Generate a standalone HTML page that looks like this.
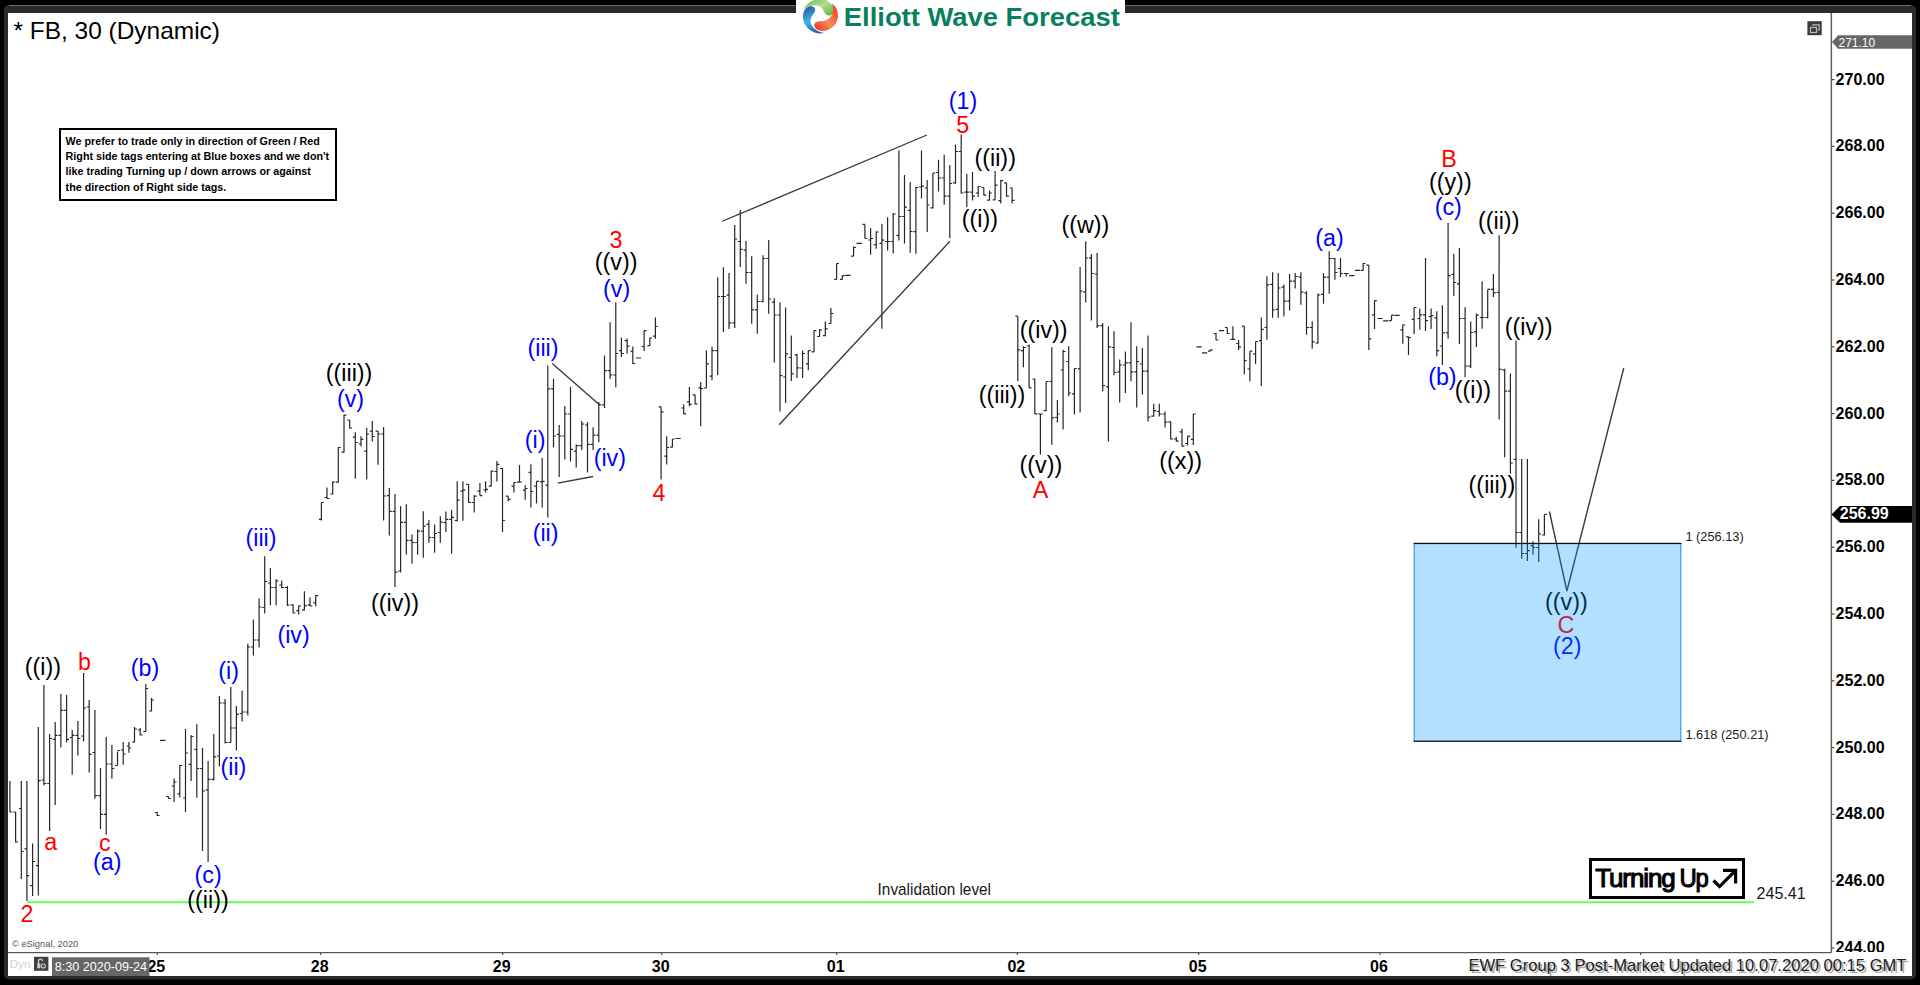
<!DOCTYPE html>
<html><head><meta charset="utf-8"><title>FB 30 Elliott Wave</title>
<style>
html,body{margin:0;padding:0;background:#000;}
body{width:1920px;height:985px;overflow:hidden;position:relative;font-family:"Liberation Sans",sans-serif;}
svg{position:absolute;left:0;top:0;}
text{font-family:"Liberation Sans",sans-serif;}
.w{font-size:23.3px;}
.ax{font-size:16px;font-weight:bold;fill:#000;}
.k{fill:#000}.b{fill:#0000ff}.r{fill:#ff0000}
</style></head><body>
<svg width="1920" height="985" viewBox="0 0 1920 985">
<defs>
<linearGradient id="gg" x1="0" y1="0" x2="1" y2="1"><stop offset="0" stop-color="#5cb947"/><stop offset="0.5" stop-color="#b5dc8c"/><stop offset="1" stop-color="#4fb53c"/></linearGradient>
<linearGradient id="gr" x1="1" y1="0" x2="0" y2="1"><stop offset="0" stop-color="#ee2f22"/><stop offset="0.55" stop-color="#f58a5c"/><stop offset="1" stop-color="#ee2a1c"/></linearGradient>
<linearGradient id="gb" x1="0.3" y1="0" x2="0.6" y2="1"><stop offset="0" stop-color="#2a5aa0"/><stop offset="0.5" stop-color="#3fb4ea"/><stop offset="1" stop-color="#1f5fa5"/></linearGradient>
<clipPath id="axclip"><rect x="1832" y="13" width="80" height="939"/></clipPath>
</defs>

<rect x="0" y="0" width="1920" height="985" fill="#000"/>
<rect x="4" y="5" width="1912" height="974.5" rx="5" ry="5" fill="#2a2a2a"/>
<rect x="9" y="5" width="1902" height="1" fill="#6a6a6a"/>
<rect x="8" y="13" width="1904" height="963" fill="#fff"/>
<rect x="796" y="0" width="329" height="40" fill="#fff"/>
<rect x="1830.6" y="13" width="1.5" height="939.5" fill="#606060"/>
<rect x="8" y="952" width="1823.5" height="1.2" fill="#555"/>
<rect x="1832" y="79.0" width="2.4" height="1.2" fill="#444"/>
<text class="ax" x="1835.6" y="84.5" clip-path="url(#axclip)">270.00</text>
<rect x="1832" y="145.8" width="2.4" height="1.2" fill="#444"/>
<text class="ax" x="1835.6" y="151.3" clip-path="url(#axclip)">268.00</text>
<rect x="1832" y="212.6" width="2.4" height="1.2" fill="#444"/>
<text class="ax" x="1835.6" y="218.1" clip-path="url(#axclip)">266.00</text>
<rect x="1832" y="279.4" width="2.4" height="1.2" fill="#444"/>
<text class="ax" x="1835.6" y="284.9" clip-path="url(#axclip)">264.00</text>
<rect x="1832" y="346.2" width="2.4" height="1.2" fill="#444"/>
<text class="ax" x="1835.6" y="351.7" clip-path="url(#axclip)">262.00</text>
<rect x="1832" y="413.0" width="2.4" height="1.2" fill="#444"/>
<text class="ax" x="1835.6" y="418.5" clip-path="url(#axclip)">260.00</text>
<rect x="1832" y="479.8" width="2.4" height="1.2" fill="#444"/>
<text class="ax" x="1835.6" y="485.3" clip-path="url(#axclip)">258.00</text>
<rect x="1832" y="546.6" width="2.4" height="1.2" fill="#444"/>
<text class="ax" x="1835.6" y="552.1" clip-path="url(#axclip)">256.00</text>
<rect x="1832" y="613.4" width="2.4" height="1.2" fill="#444"/>
<text class="ax" x="1835.6" y="618.9" clip-path="url(#axclip)">254.00</text>
<rect x="1832" y="680.2" width="2.4" height="1.2" fill="#444"/>
<text class="ax" x="1835.6" y="685.7" clip-path="url(#axclip)">252.00</text>
<rect x="1832" y="747.0" width="2.4" height="1.2" fill="#444"/>
<text class="ax" x="1835.6" y="752.5" clip-path="url(#axclip)">250.00</text>
<rect x="1832" y="813.8" width="2.4" height="1.2" fill="#444"/>
<text class="ax" x="1835.6" y="819.3" clip-path="url(#axclip)">248.00</text>
<rect x="1832" y="880.6" width="2.4" height="1.2" fill="#444"/>
<text class="ax" x="1835.6" y="886.1" clip-path="url(#axclip)">246.00</text>
<rect x="1832" y="947.4" width="2.4" height="1.2" fill="#444"/>
<text class="ax" x="1835.6" y="952.9" clip-path="url(#axclip)">244.00</text>
<rect x="156.7" y="952.5" width="1.2" height="2.6" fill="#555"/>
<text class="ax" x="156.3" y="972.3" text-anchor="middle">25</text>
<rect x="320.1" y="952.5" width="1.2" height="2.6" fill="#555"/>
<text class="ax" x="319.7" y="972.3" text-anchor="middle">28</text>
<rect x="502.1" y="952.5" width="1.2" height="2.6" fill="#555"/>
<text class="ax" x="501.7" y="972.3" text-anchor="middle">29</text>
<rect x="661.1" y="952.5" width="1.2" height="2.6" fill="#555"/>
<text class="ax" x="660.7" y="972.3" text-anchor="middle">30</text>
<rect x="836.1" y="952.5" width="1.2" height="2.6" fill="#555"/>
<text class="ax" x="835.7" y="972.3" text-anchor="middle">01</text>
<rect x="1016.7" y="952.5" width="1.2" height="2.6" fill="#555"/>
<text class="ax" x="1016.3" y="972.3" text-anchor="middle">02</text>
<rect x="1198.1" y="952.5" width="1.2" height="2.6" fill="#555"/>
<text class="ax" x="1197.7" y="972.3" text-anchor="middle">05</text>
<rect x="1379.4" y="952.5" width="1.2" height="2.6" fill="#555"/>
<text class="ax" x="1379.0" y="972.3" text-anchor="middle">06</text>
<rect x="1640" y="952" width="1.2" height="3" fill="#555"/>
<text x="1685.4" y="541.3" font-size="12.8" fill="#222">1 (256.13)</text>
<text x="1685.4" y="738.8" font-size="12.8" fill="#222">1.618 (250.21)</text>
<rect x="27" y="901.3" width="1727" height="1.9" fill="#5aff5a"/>
<path d="M9.9 781.0V812.0M9.9 812.0H12.3M15.6 812.0V842.5M13.2 812.0H15.6M15.6 842.0H18.0M21.3 781.0V879.0M18.9 808.5H21.3M21.3 851.5H23.7M26.9 781.0V901.0M24.5 848.8H26.9M26.9 875.6H29.3M32.6 843.5V896.0M30.2 885.6H32.6M32.6 861.5H35.0M38.3 726.9V895.6M35.9 865.6H38.3M38.3 780.6H40.7M43.9 685.0V785.6M41.5 780.0H43.9M43.9 783.5H46.3M49.6 734.0V831.0M47.2 783.5H49.6M49.6 738.5H52.0M55.2 721.9V805.0M52.8 739.4H55.2M55.2 735.4H57.6M60.9 693.8V747.5M58.5 735.4H60.9M60.9 710.4H63.3M66.6 695.0V742.5M64.2 710.4H66.6M66.6 739.4H69.0M72.2 730.0V774.8M69.8 737.5H72.2M72.2 735.4H74.6M77.9 721.0V755.6M75.5 735.4H77.9M77.9 738.5H80.3M83.6 672.9V741.5M81.2 736.0H83.6M83.6 708.0H86.0M89.2 700.0V772.5M86.8 707.0H89.2M89.2 754.4H91.6M94.9 710.0V798.8M92.5 752.5H94.9M94.9 795.6H97.3M100.5 768.0V829.0M98.1 795.6H100.5M100.5 814.4H102.9M106.2 737.0V834.8M103.8 814.4H106.2M106.2 764.0H108.6M111.9 745.0V778.8M109.5 764.0H111.9M111.9 768.5H114.3M117.5 751.5V765.6M115.1 765.5H117.5M117.5 750.5H119.9M123.2 742.0V764.8M120.8 750.0H123.2M123.2 754.0H125.6M128.9 742.0V752.8M126.5 746.0H128.9M128.9 748.0H131.3M134.5 727.0V742.5M132.1 742.0H134.5M134.5 729.0H136.9M140.2 728.0V735.6M137.8 730.0H140.2M140.2 735.0H142.6M145.8 684.0V731.5M143.4 731.5H145.8M145.8 688.5H148.2M151.5 698.0V711.5M149.1 711.0H151.5M151.5 700.0H153.9M157.2 812.0V816.0M154.8 812.5H157.2M157.2 815.5H159.6M160.2 740.4H165.4M168.5 796.5V798.5M166.1 796.5H168.5M168.5 798.5H170.9M174.1 778.5V802.0M171.7 786.0H174.1M174.1 782.0H176.5M179.8 765.2V797.5M177.4 793.8H179.8M179.8 765.5H182.2M185.5 729.0V812.0M183.1 798.0H185.5M185.5 753.0H187.9M191.1 735.0V781.0M188.7 764.4H191.1M191.1 736.5H193.5M196.8 724.0V797.8M194.4 749.4H196.8M196.8 768.5H199.2M202.5 748.0V851.0M200.1 768.5H202.5M202.5 791.0H204.9M208.1 761.0V862.0M205.7 789.8H208.1M208.1 779.4H210.5M213.8 734.0V780.6M211.4 779.4H213.8M213.8 756.9H216.2M219.4 696.0V766.5M217.0 756.0H219.4M219.4 703.0H221.8M225.1 699.0V743.5M222.7 703.0H225.1M225.1 742.5H227.5M230.8 687.0V742.5M228.4 742.5H230.8M230.8 728.0H233.2M236.4 706.0V750.6M234.0 728.0H236.4M236.4 714.4H238.8M242.1 690.6V721.5M239.7 713.5H242.1M242.1 712.0H244.5M247.8 643.8V715.6M245.4 712.0H247.8M247.8 647.0H250.2M253.4 619.6V655.6M251.0 647.0H253.4M253.4 640.0H255.8M259.1 598.5V647.5M256.7 640.0H259.1M259.1 607.0H261.5M264.7 556.2V613.5M262.3 607.5H264.7M264.7 581.5H267.1M270.4 568.0V605.2M268.0 583.0H270.4M270.4 587.5H272.8M276.1 579.0V605.2M273.7 587.5H276.1M276.1 581.0H278.5M281.7 580.6V588.0M279.3 585.0H281.7M281.7 587.5H284.1M287.4 586.0V606.0M285.0 587.5H287.4M287.4 605.0H289.8M293.1 604.4V613.5M290.7 604.8H293.1M293.1 613.0H295.4M298.7 605.6V614.4M296.3 610.6H298.7M298.7 606.0H301.1M304.4 591.2V610.6M302.0 609.8H304.4M304.4 605.6H306.8M310.0 597.5V606.2M307.6 604.8H310.0M310.0 606.0H312.4M315.7 595.2V606.2M313.3 602.8H315.7M315.7 595.6H318.1M321.4 502.5V520.6M319.0 519.4H321.4M321.4 502.5H323.8M327.0 487.5V498.8M324.6 497.5H327.0M327.0 498.5H329.4M332.7 481.2V494.4M330.3 494.0H332.7M332.7 482.0H335.1M338.3 447.2V482.5M335.9 482.2H338.3M338.3 447.5H340.7M344.0 415.0V452.5M341.6 452.2H344.0M344.0 415.2H346.4M349.7 420.0V428.5M347.3 420.0H349.7M349.7 428.0H352.1M355.3 432.2V478.8M352.9 437.2H355.3M355.3 442.5H357.7M361.0 436.2V446.5M358.6 444.0H361.0M361.0 439.4H363.4M366.7 427.8V479.4M364.3 451.2H366.7M366.7 434.0H369.1M372.3 421.0V441.5M369.9 431.2H372.3M372.3 436.5H374.7M378.0 431.0V464.8M375.6 431.2H378.0M378.0 434.0H380.4M383.6 427.0V520.6M381.2 434.0H383.6M383.6 496.0H386.0M389.3 488.0V535.6M386.9 495.6H389.3M389.3 511.4H391.7M395.0 494.0V587.0M392.6 511.4H395.0M395.0 572.2H397.4M400.6 506.2V572.5M398.2 571.0H400.6M400.6 522.3H403.0M406.3 504.2V554.8M403.9 522.3H406.3M406.3 540.4H408.7M412.0 534.4V563.8M409.6 540.4H412.0M412.0 542.5H414.4M417.6 529.4V554.8M415.2 542.5H417.6M417.6 531.2H420.0M423.3 511.2V557.8M420.9 531.2H423.3M423.3 526.2H425.7M428.9 520.2V542.8M426.5 524.4H428.9M428.9 537.5H431.3M434.6 524.4V552.8M432.2 537.5H434.6M434.6 533.5H437.0M440.3 516.2V542.8M437.9 532.5H440.3M440.3 522.2H442.7M445.9 511.5V531.9M443.5 522.5H445.9M445.9 519.4H448.3M451.6 510.0V553.8M449.2 519.4H451.6M451.6 517.4H454.0M457.2 481.2V521.5M454.8 520.5H457.2M457.2 500.1H459.6M462.9 481.2V520.8M460.5 491.2H462.9M462.9 490.2H465.3M468.6 484.4V502.8M466.2 484.4H468.6M468.6 502.5H471.0M474.2 495.2V512.5M471.8 502.5H474.2M474.2 496.2H476.6M479.9 483.0V495.6M477.5 491.2H479.9M479.9 495.6H482.3M485.6 481.2V492.5M483.2 490.0H485.6M485.6 489.4H488.0M491.2 470.6V486.5M488.8 486.2H491.2M491.2 471.2H493.6M496.9 461.0V481.5M494.5 471.5H496.9M496.9 464.4H499.3M502.5 468.0V531.9M500.1 468.5H502.5M502.5 520.5H504.9M508.2 496.2V501.5M505.8 496.2H508.2M508.2 499.4H510.6M513.9 482.2V492.5M511.5 486.2H513.9M513.9 482.5H516.3M519.5 465.0V482.2M517.1 482.2H519.5M519.5 482.0H521.9M525.2 485.2V499.7M522.8 490.2H525.2M525.2 488.5H527.6M530.9 464.2V507.5M528.5 472.4H530.9M530.9 491.5H533.3M536.5 481.2V503.5M534.1 486.2H536.5M536.5 481.4H538.9M542.2 458.0V507.6M539.8 481.8H542.2M542.2 481.4H544.6M547.8 365.6V517.5M545.4 485.2H547.8M547.8 388.8H550.2M553.5 378.8V447.2M551.1 388.8H553.5M553.5 436.0H555.9M559.2 425.0V476.9M556.8 434.4H559.2M559.2 436.0H561.6M564.8 406.0V459.4M562.4 436.0H564.8M564.8 414.0H567.2M570.5 386.9V461.5M568.1 414.0H570.5M570.5 449.4H572.9M576.2 444.4V467.5M573.8 451.2H576.2M576.2 445.6H578.6M581.8 421.0V450.0M579.4 445.6H581.8M581.8 424.0H584.2M587.5 421.9V472.5M585.1 425.0H587.5M587.5 444.4H589.9M593.1 427.2V450.0M590.7 444.4H593.1M593.1 435.2H595.5M598.8 401.9V442.2M596.4 435.2H598.8M598.8 404.8H601.2M604.5 355.6V408.0M602.1 404.8H604.5M604.5 370.6H606.9M610.1 322.2V379.0M607.7 370.6H610.1M610.1 375.0H612.5M615.8 302.2V387.2M613.4 375.0H615.8M615.8 353.5H618.2M621.4 337.5V356.9M619.0 350.6H621.4M621.4 353.5H623.8M627.1 338.5V353.8M624.7 340.6H627.1M627.1 346.2H629.5M632.8 346.5V364.0M630.4 351.2H632.8M632.8 363.5H635.2M635.8 358.0H641.0M644.1 330.4V351.0M641.7 346.5H644.1M644.1 330.6H646.5M649.8 337.5V346.0M647.4 345.6H649.8M649.8 338.0H652.2M655.4 317.5V338.8M653.0 336.2H655.4M655.4 326.5H657.8M661.1 406.9V479.4M658.7 406.9H661.1M661.1 411.9H663.5M666.7 436.2V464.4M664.3 456.2H666.7M666.7 447.5H669.1M672.4 439.0V447.2M670.0 447.2H672.4M672.4 439.0H674.8M675.5 438.5H680.7M683.7 404.4V414.4M681.3 408.0H683.7M683.7 413.8H686.1M689.4 386.9V406.2M687.0 401.9H689.4M689.4 404.4H691.8M695.1 394.8V404.4M692.7 394.8H695.1M695.1 403.8H697.5M700.7 381.9V426.2M698.3 387.8H700.7M700.7 388.5H703.1M706.4 350.6V388.0M704.0 388.0H706.4M706.4 363.8H708.8M712.0 346.5V380.2M709.6 376.2H712.0M712.0 350.6H714.4M717.7 277.2V375.0M715.3 350.6H717.7M717.7 296.5H720.1M723.4 267.2V331.9M721.0 296.5H723.4M723.4 296.5H725.8M729.0 273.0V329.0M726.6 295.2H729.0M729.0 322.8H731.4M734.7 225.0V328.0M732.3 322.8H734.7M734.7 239.0H737.1M740.3 210.0V266.9M737.9 241.5H740.3M740.3 249.4H742.7M746.0 241.0V283.8M743.6 250.2H746.0M746.0 272.5H748.4M751.7 256.2V323.8M749.3 272.5H751.7M751.7 309.8H754.1M757.3 294.4V333.8M754.9 309.8H757.3M757.3 301.5H759.7M763.0 255.2V302.5M760.6 301.5H763.0M763.0 258.5H765.4M768.7 240.0V313.8M766.3 258.5H768.7M768.7 299.0H771.1M774.3 298.0V362.5M771.9 302.2H774.3M774.3 315.0H776.7M780.0 302.2V411.5M777.6 315.0H780.0M780.0 375.6H782.4M785.6 307.5V403.0M783.2 377.0H785.6M785.6 353.8H788.0M791.3 335.6V381.0M788.9 357.5H791.3M791.3 373.8H793.7M797.0 353.8V378.0M794.6 354.8H797.0M797.0 367.8H799.4M802.6 350.6V378.0M800.2 368.0H802.6M802.6 353.5H805.0M808.3 350.6V370.2M805.9 363.8H808.3M808.3 350.6H810.7M814.0 330.2V351.9M811.6 351.9H814.0M814.0 330.6H816.4M819.6 329.0V336.5M817.2 336.5H819.6M819.6 330.0H822.0M825.3 321.5V336.2M822.9 335.6H825.3M825.3 328.8H827.7M830.9 308.0V323.5M828.5 323.5H830.9M830.9 313.5H833.3M836.6 263.5V279.4M834.2 279.4H836.6M836.6 263.5H839.0M842.3 275.6V279.4M839.9 279.4H842.3M842.3 275.6H844.7M845.3 275.4H850.5M853.6 246.5V256.2M851.2 256.2H853.6M853.6 247.5H856.0M856.6 243.4H861.9M864.9 224.4V238.5M862.5 224.4H864.9M864.9 238.5H867.3M870.6 228.0V254.8M868.2 240.0H870.6M870.6 238.5H873.0M876.2 231.2V248.8M873.8 244.6H876.2M876.2 232.0H878.6M881.9 224.0V328.8M879.5 243.4H881.9M881.9 240.2H884.3M887.6 217.2V250.6M885.2 241.5H887.6M887.6 241.5H890.0M893.2 213.0V253.5M890.8 241.5H893.2M893.2 214.0H895.6M898.9 150.6V240.6M896.5 235.4H898.9M898.9 216.5H901.3M904.5 175.0V243.6M902.1 216.5H904.5M904.5 207.2H906.9M910.2 182.0V252.8M907.8 210.4H910.2M910.2 231.5H912.6M915.9 187.0V253.8M913.5 231.7H915.9M915.9 187.5H918.3M921.5 150.6V198.6M919.1 187.0H921.5M921.5 186.2H923.9M927.2 180.0V231.9M924.8 188.0H927.2M927.2 205.0H929.6M932.9 173.0V208.6M930.5 207.9H932.9M932.9 173.0H935.3M938.5 159.8V191.5M936.1 172.5H938.5M938.5 178.0H940.9M944.2 154.8V204.8M941.8 178.0H944.2M944.2 196.2H946.6M949.8 165.0V238.0M947.4 196.2H949.8M949.8 183.5H952.2M955.5 144.4V183.8M953.1 182.8H955.5M955.5 151.5H957.9M961.2 134.4V193.5M958.8 151.5H961.2M961.2 193.0H963.6M966.8 173.8V207.0M964.4 192.2H966.8M966.8 192.2H969.2M972.5 172.0V200.6M970.1 192.2H972.5M972.5 196.2H974.9M978.2 186.2V197.0M975.8 193.0H978.2M978.2 186.5H980.6M983.8 187.5V195.6M981.4 187.5H983.8M983.8 195.2H986.2M989.5 190.6V200.6M987.1 200.2H989.5M989.5 193.0H991.9M995.1 171.0V199.8M992.7 199.8H995.1M995.1 185.2H997.5M1000.8 179.8V203.5M998.4 200.6H1000.8M1000.8 180.6H1003.2M1006.5 182.8V196.5M1004.1 182.8H1006.5M1006.5 196.2H1008.9M1012.1 187.5V203.5M1009.7 188.0H1012.1M1012.1 200.4H1014.5M1017.8 316.2V381.0M1015.4 316.2H1017.8M1017.8 349.8H1020.2M1023.4 346.2V367.2M1021.0 350.6H1023.4M1023.4 347.5H1025.8M1029.1 344.4V388.0M1026.7 346.0H1029.1M1029.1 387.8H1031.5M1034.8 378.8V414.0M1032.4 379.0H1034.8M1034.8 413.8H1037.2M1040.4 414.0V454.4M1038.0 414.0H1040.4M1040.4 414.0H1042.8M1046.1 381.9V411.0M1043.7 410.6H1046.1M1046.1 381.5H1048.5M1051.8 347.2V444.8M1049.4 381.5H1051.8M1051.8 417.8H1054.2M1057.4 400.0V422.5M1055.0 417.5H1057.4M1057.4 414.0H1059.8M1063.1 349.8V429.4M1060.7 370.0H1063.1M1063.1 351.5H1065.5M1068.7 346.2V396.2M1066.3 361.5H1068.7M1068.7 393.0H1071.1M1074.4 368.5V414.4M1072.0 393.8H1074.4M1074.4 368.5H1076.8M1080.1 266.9V412.5M1077.7 368.8H1080.1M1080.1 291.2H1082.5M1085.7 241.2V302.5M1083.3 291.9H1085.7M1085.7 258.0H1088.1M1091.4 254.0V320.6M1089.0 257.8H1091.4M1091.4 273.5H1093.8M1097.1 253.0V328.0M1094.7 274.0H1097.1M1097.1 325.6H1099.5M1102.7 323.0V391.2M1100.3 325.6H1102.7M1102.7 385.6H1105.1M1108.4 326.2V441.5M1106.0 386.9H1108.4M1108.4 346.9H1110.8M1114.0 331.2V375.2M1111.6 347.5H1114.0M1114.0 372.5H1116.4M1119.7 359.4V402.5M1117.3 371.9H1119.7M1119.7 365.0H1122.1M1125.4 351.5V393.0M1123.0 365.0H1125.4M1125.4 362.8H1127.8M1131.0 322.2V381.2M1128.6 362.8H1131.0M1131.0 371.9H1133.4M1136.7 346.2V407.5M1134.3 371.9H1136.7M1136.7 361.5H1139.1M1142.4 348.0V394.4M1140.0 364.0H1142.4M1142.4 371.2H1144.8M1148.0 335.6V421.5M1145.6 371.2H1148.0M1148.0 417.2H1150.4M1153.7 403.8V416.5M1151.3 416.2H1153.7M1153.7 410.6H1156.1M1159.3 403.8V416.5M1156.9 411.5H1159.3M1159.3 414.0H1161.7M1165.0 411.5V427.5M1162.6 414.0H1165.0M1165.0 422.2H1167.4M1170.7 421.5V439.4M1168.3 421.9H1170.7M1170.7 439.0H1173.1M1176.3 436.9V441.5M1173.9 439.0H1176.3M1176.3 441.2H1178.7M1182.0 428.8V446.5M1179.6 431.9H1182.0M1182.0 446.2H1184.4M1187.6 436.0V445.6M1185.2 443.5H1187.6M1187.6 436.2H1190.0M1193.3 413.8V445.0M1190.9 439.4H1193.3M1193.3 414.0H1195.7M1196.4 346.9H1201.6M1202.0 352.9H1207.2M1210.3 349.8V351.2M1207.9 351.2H1210.3M1210.3 349.8H1212.7M1216.0 333.0V340.2M1213.6 333.5H1216.0M1216.0 340.0H1218.4M1219.0 330.6H1224.2M1227.3 327.5V333.8M1224.9 327.5H1227.3M1227.3 333.5H1229.7M1232.9 326.2V339.8M1230.5 339.4H1232.9M1232.9 339.4H1235.3M1238.6 340.0V350.0M1236.2 343.5H1238.6M1238.6 346.9H1241.0M1244.3 326.2V374.4M1241.9 326.2H1244.3M1244.3 360.6H1246.7M1249.9 351.2V381.2M1247.5 369.0H1249.9M1249.9 351.2H1252.3M1255.6 341.5V364.0M1253.2 353.8H1255.6M1255.6 341.5H1258.0M1261.3 317.5V386.0M1258.9 340.6H1261.3M1261.3 329.4H1263.7M1266.9 276.2V339.8M1264.5 327.5H1266.9M1266.9 284.8H1269.3M1272.6 272.2V317.8M1270.2 284.4H1272.6M1272.6 310.0H1275.0M1278.2 273.0V317.8M1275.8 309.4H1278.2M1278.2 288.0H1280.6M1283.9 284.4V316.5M1281.5 287.2H1283.9M1283.9 301.2H1286.3M1289.6 274.0V310.6M1287.2 301.2H1289.6M1289.6 281.2H1292.0M1295.2 273.0V288.5M1292.8 281.2H1295.2M1295.2 276.5H1297.6M1300.9 272.2V304.8M1298.5 277.2H1300.9M1300.9 292.2H1303.3M1306.5 291.2V334.8M1304.1 293.0H1306.5M1306.5 327.5H1308.9M1312.2 321.2V348.8M1309.8 327.5H1312.2M1312.2 341.9H1314.6M1317.9 293.5V343.8M1315.5 343.0H1317.9M1317.9 295.0H1320.3M1323.5 273.0V303.8M1321.1 294.4H1323.5M1323.5 277.2H1325.9M1329.2 251.2V293.8M1326.8 277.2H1329.2M1329.2 258.5H1331.6M1334.9 258.0V279.8M1332.5 258.5H1334.9M1334.9 272.5H1337.3M1340.5 258.0V276.9M1338.1 268.5H1340.5M1340.5 273.5H1342.9M1346.2 273.0V276.5M1343.8 273.5H1346.2M1346.2 273.5H1348.6M1349.2 275.6H1354.4M1354.9 270.4H1360.1M1363.2 263.0V270.6M1360.8 270.4H1363.2M1363.2 263.5H1365.6M1368.8 265.2V350.0M1366.4 265.2H1368.8M1368.8 338.8H1371.2M1374.5 300.6V329.0M1372.1 314.8H1374.5M1374.5 300.6H1376.9M1377.6 318.5H1382.8M1383.2 320.9H1388.4M1391.5 315.2V320.6M1389.1 320.6H1391.5M1391.5 315.2H1393.9M1394.5 315.4H1399.7M1402.8 324.6V343.8M1400.4 329.8H1402.8M1402.8 325.0H1405.2M1408.5 336.5V355.0M1406.1 336.9H1408.5M1408.5 337.5H1410.9M1414.1 307.5V334.0M1411.7 319.4H1414.1M1414.1 307.5H1416.5M1419.8 308.5V329.8M1417.4 318.5H1419.8M1419.8 314.8H1422.2M1425.5 258.0V331.0M1423.0 314.8H1425.5M1425.5 320.6H1427.9M1431.1 308.5V329.0M1428.7 316.5H1431.1M1431.1 315.6H1433.5M1436.8 311.2V356.2M1434.4 317.8H1436.8M1436.8 350.6H1439.2M1442.4 305.2V365.0M1440.0 346.0H1442.4M1442.4 332.8H1444.8M1448.1 223.0V338.8M1445.7 332.8H1448.1M1448.1 275.6H1450.5M1453.8 254.0V296.0M1451.4 274.4H1453.8M1453.8 282.5H1456.2M1459.4 248.0V344.0M1457.0 283.8H1459.4M1459.4 318.5H1461.8M1465.1 307.2V377.2M1462.7 318.5H1465.1M1465.1 366.0H1467.5M1470.7 321.5V368.0M1468.3 366.2H1470.7M1470.7 332.5H1473.1M1476.4 313.5V346.9M1474.0 331.9H1476.4M1476.4 315.2H1478.8M1482.1 281.2V328.8M1479.7 317.5H1482.1M1482.1 317.5H1484.5M1487.7 289.4V318.5M1485.3 317.5H1487.7M1487.7 289.4H1490.1M1493.4 274.0V296.9M1491.0 289.4H1493.4M1493.4 292.8H1495.8M1499.1 235.2V419.4M1496.7 292.5H1499.1M1499.1 369.4H1501.5M1504.7 368.8V457.2M1502.3 369.8H1504.7M1504.7 391.2H1507.1M1510.4 373.5V473.5M1508.0 391.2H1510.4M1510.4 463.0H1512.8M1516.0 340.6V547.8M1513.6 459.4H1516.0M1516.0 532.5H1518.4M1521.7 459.0V558.8M1519.3 532.5H1521.7M1521.7 553.5H1524.1M1527.4 459.0V561.0M1525.0 553.5H1527.4M1527.4 550.6H1529.8M1533.0 541.2V554.8M1530.6 545.6H1533.0M1533.0 547.5H1535.4M1538.7 519.2V561.9M1536.3 547.5H1538.7M1538.7 534.0H1541.1M1544.4 514.4V535.6M1542.0 535.0H1544.4M1544.4 514.4H1546.8" stroke="#262626" stroke-width="1.2" fill="none"/>
<line x1="552.25" y1="363.5" x2="599.75" y2="405" stroke="#383838" stroke-width="1.35"/>
<line x1="557.75" y1="483.1" x2="593.1" y2="476.5" stroke="#383838" stroke-width="1.35"/>
<line x1="722.25" y1="221.25" x2="926.9" y2="135" stroke="#383838" stroke-width="1.35"/>
<line x1="779.1" y1="424.75" x2="950" y2="241.25" stroke="#383838" stroke-width="1.35"/>
<polyline points="1549.4,511.5 1566.9,591 1623.75,368" fill="none" stroke="#3a3a3a" stroke-width="1.4"/>
<text class="w r" x="26.9" y="922.0" text-anchor="middle">2</text>
<text class="w k" x="42.8" y="674.6" text-anchor="middle">((i))</text>
<text class="w r" x="50.7" y="849.8" text-anchor="middle">a</text>
<text class="w r" x="84.4" y="669.7" text-anchor="middle">b</text>
<text class="w r" x="104.8" y="851.3" text-anchor="middle">c</text>
<text class="w b" x="107.3" y="870.1" text-anchor="middle">(a)</text>
<text class="w b" x="145.1" y="676.1" text-anchor="middle">(b)</text>
<text class="w b" x="208.2" y="883.3" text-anchor="middle">(c)</text>
<text class="w k" x="208" y="908.2" text-anchor="middle">((ii))</text>
<text class="w b" x="228.7" y="679.4" text-anchor="middle">(i)</text>
<text class="w b" x="233.4" y="774.9" text-anchor="middle">(ii)</text>
<text class="w b" x="261" y="545.6" text-anchor="middle">(iii)</text>
<text class="w b" x="293.6" y="643.3" text-anchor="middle">(iv)</text>
<text class="w k" x="349.1" y="381.0" text-anchor="middle">((iii))</text>
<text class="w b" x="350.5" y="407.1" text-anchor="middle">(v)</text>
<text class="w k" x="395" y="610.5" text-anchor="middle">((iv))</text>
<text class="w b" x="535.1" y="448.1" text-anchor="middle">(i)</text>
<text class="w b" x="545.6" y="541" text-anchor="middle">(ii)</text>
<text class="w b" x="543" y="356.1" text-anchor="middle">(iii)</text>
<text class="w b" x="609.8" y="466.3" text-anchor="middle">(iv)</text>
<text class="w r" x="616.1" y="247.7" text-anchor="middle">3</text>
<text class="w k" x="616.1" y="269.8" text-anchor="middle">((v))</text>
<text class="w b" x="616.6" y="296.9" text-anchor="middle">(v)</text>
<text class="w r" x="659" y="500.8" text-anchor="middle">4</text>
<text class="w b" x="963.1" y="109.2" text-anchor="middle">(1)</text>
<text class="w r" x="962.8" y="132.6" text-anchor="middle">5</text>
<text class="w k" x="995.2" y="165.5" text-anchor="middle">((ii))</text>
<text class="w k" x="979.9" y="227.1" text-anchor="middle">((i))</text>
<text class="w k" x="1085.4" y="232.8" text-anchor="middle">((w))</text>
<text class="w k" x="1043.7" y="338.1" text-anchor="middle">((iv))</text>
<text class="w k" x="1002.0" y="402.5" text-anchor="middle">((iii))</text>
<text class="w k" x="1040.9" y="473.2" text-anchor="middle">((v))</text>
<text class="w r" x="1040.4" y="498.4" text-anchor="middle">A</text>
<text class="w k" x="1180.6" y="469.1" text-anchor="middle">((x))</text>
<text class="w b" x="1329.5" y="246.1" text-anchor="middle">(a)</text>
<text class="w r" x="1449.1" y="167.4" text-anchor="middle">B</text>
<text class="w k" x="1450.3" y="189.7" text-anchor="middle">((y))</text>
<text class="w b" x="1448.3" y="214.9" text-anchor="middle">(c)</text>
<text class="w k" x="1498.7" y="228.9" text-anchor="middle">((ii))</text>
<text class="w b" x="1442.4" y="384.7" text-anchor="middle">(b)</text>
<text class="w k" x="1472.8" y="397.5" text-anchor="middle">((i))</text>
<text class="w k" x="1528.7" y="334.5" text-anchor="middle">((iv))</text>
<text class="w k" x="1491.9" y="493" text-anchor="middle">((iii))</text>
<text class="w k" x="1566.4" y="609.8" text-anchor="middle">((v))</text>
<text class="w r" x="1565.9" y="633.3" text-anchor="middle">C</text>
<text class="w b" x="1567.3" y="653.7" text-anchor="middle">(2)</text>
<rect x="1414" y="543.4" width="267" height="197.8" fill="rgb(2,152,255)" fill-opacity="0.3"/>
<rect x="1413.6" y="543.4" width="1.2" height="197.8" fill="#3a9cf5"/>
<rect x="1680.2" y="543.4" width="1.2" height="197.8" fill="#3a9cf5"/>
<rect x="1413.6" y="542.8" width="267.8" height="1.3" fill="#111"/>
<rect x="1413.6" y="740.6" width="267.8" height="1.3" fill="#111"/>
<text x="13.4" y="39.2" font-size="24" fill="#000" textLength="206.6" lengthAdjust="spacingAndGlyphs">* FB, 30 (Dynamic)</text>
<rect x="60" y="129" width="276" height="71" fill="#fff" stroke="#000" stroke-width="2"/>
<text x="65.6" y="145.0" font-size="10.75" font-weight="bold" fill="#000" id="n0">We prefer to trade only in direction of Green / Red</text>
<text x="65.6" y="160.2" font-size="10.75" font-weight="bold" fill="#000" id="n1">Right side tags entering at Blue boxes and we don't</text>
<text x="65.6" y="175.4" font-size="10.75" font-weight="bold" fill="#000" id="n2">like trading Turning up / down arrows or against</text>
<text x="65.6" y="190.6" font-size="10.75" font-weight="bold" fill="#000" id="n3">the direction of Right side tags.</text>
<text x="877.6" y="894.7" font-size="16.6" fill="#161616" textLength="113.4" lengthAdjust="spacingAndGlyphs">Invalidation level</text>
<text x="1756.6" y="898.5" font-size="16" fill="#141428">245.41</text>
<rect x="1590.5" y="859.5" width="153" height="38" fill="#fff" stroke="#000" stroke-width="3"/>
<text x="1595.2" y="887.3" font-size="26" fill="#000" stroke="#000" stroke-width="1.1" letter-spacing="-1.1" id="tu1">Turning</text>
<text x="1679.4" y="887.3" font-size="26" fill="#000" stroke="#000" stroke-width="1.1" letter-spacing="-1.1" id="tu2" textLength="28.5" lengthAdjust="spacingAndGlyphs">Up</text>
<path d="M1713.5 880.5L1719.6 886.6L1735.3 870.6M1723 870.4H1735.6V883.6" fill="none" stroke="#000" stroke-width="3.2" stroke-linejoin="miter"/>
<path d="M1832 42L1838 35.2H1912V48.8H1838Z" fill="#666"/>
<text x="1838.5" y="47.2" font-size="12" fill="#fff">271.10</text>
<path d="M1831.5 514.4L1840 506H1912V522.8H1840Z" fill="#000"/>
<text x="1839.8" y="519.3" font-size="16" font-weight="bold" fill="#fff">256.99</text>
<rect x="1807.4" y="21.2" width="14.3" height="14" fill="#3c3c3c"/>
<rect x="1810.5" y="27.5" width="6" height="5" fill="none" stroke="#bbb" stroke-width="1.2"/>
<path d="M1813 26V24.8H1819.2V30H1817.5" fill="none" stroke="#bbb" stroke-width="1.2"/>
<text x="12" y="947.2" font-size="9.3" fill="#555">© eSignal, 2020</text>
<text x="9.6" y="967.8" font-size="11.8" fill="#d2d2d2">Dyn</text>
<rect x="34" y="956.8" width="14.4" height="14" fill="#404040"/>
<path d="M38.5 963.5V961.2a2 2 0 0 1 4 0" fill="none" stroke="#ccc" stroke-width="1.3"/><rect x="37.3" y="963.3" width="3" height="5" fill="#ccc"/><circle cx="43.3" cy="966" r="2" fill="none" stroke="#ccc" stroke-width="1.2"/>
<rect x="52" y="957.3" width="97.5" height="18.7" fill="#666"/>
<text x="54.7" y="971" font-size="12.6" fill="#fff">8:30 2020-09-24</text>
<text x="1470.4" y="972.6" font-size="16.6" fill="#aaa" id="ft0">EWF Group 3 Post-Market Updated 10.07.2020 00:15 GMT</text>
<text x="1468.4" y="970.6" font-size="16.6" fill="#222" id="ft1">EWF Group 3 Post-Market Updated 10.07.2020 00:15 GMT</text>
<g transform="translate(820.2,16.6)">
<path d="M-17,-6 C-12,-19 6,-22 13,-10 C15,-5 13,-1 9,-1 C4,-1 4,-6 1,-9 C-3,-13 -11,-12 -17,-6Z" fill="url(#gg)"/>
<path d="M12,-13 C21,-6 20,10 6,14 C0,15.5 -5,13 -6,9 C-6,5 -2,5 3,4.5 C10,3.5 15,-3 12,-13Z" fill="url(#gr)"/>
<path d="M4,16.5 C-8,19 -19,9 -17,-3 C-15,-10 -9,-12 -6,-9 C-3,-6 -7,-3 -9,1 C-12,7 -6,15 4,16.5Z" fill="url(#gb)"/>
</g>
<text x="843.8" y="25.5" font-size="25.5" font-weight="bold" fill="#0a7f5f" id="lg" textLength="276" lengthAdjust="spacingAndGlyphs">Elliott Wave Forecast</text>
</svg></body></html>
